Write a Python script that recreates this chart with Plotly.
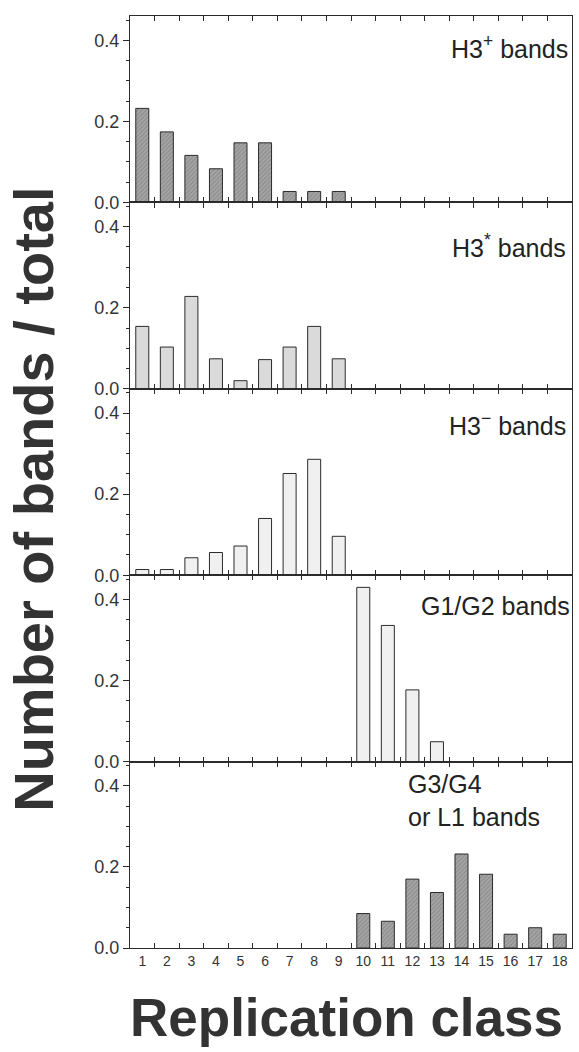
import plotly.graph_objects as go
from plotly.subplots import make_subplots

classes = [str(i) for i in range(1, 19)]

h3_plus = [0.232, 0.174, 0.116, 0.083, 0.147, 0.147, 0.027, 0.027, 0.027] + [0] * 9
h3_star = [0.154, 0.103, 0.228, 0.074, 0.020, 0.072, 0.103, 0.154, 0.074] + [0] * 9
h3_minus = [0.014, 0.014, 0.043, 0.056, 0.072, 0.140, 0.251, 0.286, 0.096] + [0] * 9
g1_g2 = [0] * 9 + [0.430, 0.336, 0.177, 0.049] + [0] * 5
g3_g4_l1 = [0] * 9 + [0.085, 0.066, 0.170, 0.137, 0.232, 0.182, 0.034, 0.050, 0.034]

series = [h3_plus, h3_star, h3_minus, g1_g2, g3_g4_l1]
labels = ["H3<sup>+</sup> bands", "H3<sup>*</sup> bands", "H3<sup>\u2212</sup> bands",
          "G1/G2 bands", "G3/G4<br>or L1 bands"]
y_ticks = [0.0, 0.2, 0.4]
y_tick_text = ["0.0", "0.2", "0.4"]

hatch = dict(color="#9c9c9c", pattern=dict(shape="/", fgcolor="#6a6a6a", bgcolor="#a6a6a6",
                                           size=3, solidity=0.35))
fills = [hatch, dict(color="#dadada"), dict(color="#f0f0f0"), dict(color="#f0f0f0"), hatch]

FONT = "Liberation Sans, Arial, Helvetica, sans-serif"
INK = "#2b2b2b"

fig = make_subplots(rows=5, cols=1, shared_xaxes=True, vertical_spacing=0)

for i, vals in enumerate(series):
    m = dict(fills[i])
    m["line"] = dict(color=INK, width=1)
    yv = [v if v > 0 else None for v in vals]
    fig.add_trace(go.Bar(x=classes, y=yv, width=0.53, marker=m, showlegend=False),
                  row=i + 1, col=1)
    fig.update_yaxes(row=i + 1, col=1, range=[0, 0.46], tickvals=y_ticks, ticktext=y_tick_text,
                     ticks="outside", ticklen=6, tickwidth=1.2, tickcolor=INK,
                     minor=dict(dtick=0.05, tick0=0, ticks="outside", ticklen=3, tickcolor=INK),
                     showline=True, linecolor=INK, linewidth=1.2, mirror=True,
                     showgrid=False, zeroline=False,
                     tickfont=dict(family=FONT, size=18, color="#333"))
    fig.update_xaxes(row=i + 1, col=1, type="category", range=[-0.5, 17.5],
                     tickson="boundaries", ticks="inside", ticklen=5, tickwidth=1.2, tickcolor=INK,
                     showline=True, linecolor=INK, linewidth=1.2, mirror="ticks",
                     showgrid=False, zeroline=False, tickangle=0,
                     tickfont=dict(family=FONT, size=14, color="#333"))

label_pos = [(0.996, 0.834, "right"), (0.99, 0.764, "right"), (0.99, 0.81, "right"),
             (1.0, 0.834, "right"), (0.624, 0.79, "left")]
for i, txt in enumerate(labels):
    x, y, anchor = label_pos[i]
    axn = "" if i == 0 else str(i + 1)
    fig.add_annotation(text=txt, xref=f"x{axn} domain", yref=f"y{axn} domain",
                       x=x, y=y, xanchor=anchor, yanchor="middle", align="left",
                       showarrow=False, font=dict(family=FONT, size=25, color="#222"))

fig.add_annotation(text="<b>Number of bands / total</b>", xref="paper", yref="paper",
                   x=-0.217, y=0.481, xanchor="center", yanchor="middle", textangle=-90,
                   showarrow=False, font=dict(family=FONT, size=56, color="#333"))
fig.add_annotation(text="<b>Replication class</b>", xref="paper", yref="paper",
                   x=0.49, y=-0.0751, xanchor="center", yanchor="middle",
                   showarrow=False, font=dict(family=FONT, size=53, color="#333"))

fig.update_layout(width=579, height=1052, margin=dict(l=130, r=7, t=16, b=104),
                  plot_bgcolor="white", paper_bgcolor="white", bargap=0.47)

fig.write_html("out.html", config={"displayModeBar": False},
               post_script="document.body.style.margin='0';document.body.style.overflow='hidden';")
